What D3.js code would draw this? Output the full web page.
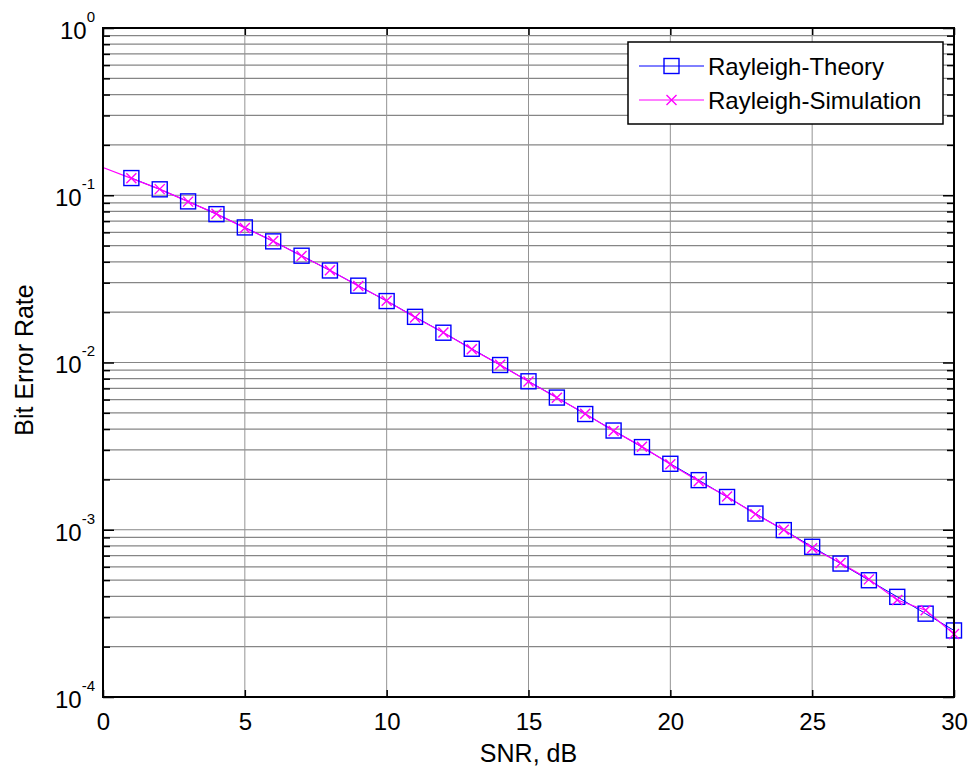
<!DOCTYPE html>
<html>
<head>
<meta charset="utf-8">
<script src="https://cdn.jsdelivr.net/npm/d3@7"></script>
<style>
  body { margin: 0; background: #fff; }
  svg { display: block; font-family: "Liberation Sans", Arial, sans-serif; }
</style>
</head>
<body>
<svg id="chart" width="971" height="769"></svg>
<script>
// SNR points (dB)
const snrMarks = [1,2,3,4,5,6,7,8,9,10,11,12,13,14,15,16,17,18,19,20,21,22,23,24,25,26,27,28,29,30];
const simLineSnr = [0].concat(snrMarks);

// Rayleigh theory BER
const berTheory = [0.1267,0.1085,0.0919,0.0771,0.0642,0.0530,0.0435,0.0355,0.0288,0.0233,
  0.01875,0.01507,0.01208,0.00966,0.00772,0.00617,0.00492,0.00392,0.00312,0.00248,
  0.00198,0.00157,0.00125,0.000995,0.000791,0.000628,0.000499,0.000397,0.000315,0.000250];

// Rayleigh simulation BER (0 dB point first, only drawn as line)
const berSim = [0.1464,0.1262,0.1088,0.0916,0.0774,0.0638,0.0532,0.0433,0.0356,0.0287,0.0234,
  0.0186,0.0151,0.0120,0.00968,0.00770,0.00615,0.00494,0.00390,0.00314,0.00246,
  0.00195,0.00158,0.00124,0.00100,0.000775,0.000632,0.000505,0.000380,0.000330,0.000238];

const xTicks = [0,5,10,15,20,25,30];
const yDecades = [1e-4,1e-3,1e-2,1e-1,1];
const legendLabels = ["Rayleigh-Theory", "Rayleigh-Simulation"];

const W = 971, H = 769;
const margin = {top: 28, right: 17, bottom: 72, left: 103};

const svg = d3.select("#chart");

const x = d3.scaleLinear().domain([0, 30]).range([margin.left, W - margin.right]);
const y = d3.scaleLog().domain([1e-4, 1]).range([H - margin.bottom, margin.top]);

// minor ticks 2..9 in each decade
let yMinor = [];
yDecades.slice(0, -1).forEach(d => { for (let k = 2; k <= 9; k++) yMinor.push(d * k); });

// grid
const grid = svg.append("g");
grid.selectAll(".hg")
  .data(yDecades.concat(yMinor))
  .join("line")
  .attr("x1", margin.left).attr("x2", W - margin.right)
  .attr("y1", d => y(d)).attr("y2", d => y(d))
  .attr("stroke", "#868686").attr("stroke-width", 1.2);
grid.selectAll(".vg")
  .data(xTicks.slice(1, -1))
  .join("line")
  .attr("y1", margin.top).attr("y2", H - margin.bottom)
  .attr("x1", d => x(d)).attr("x2", d => x(d))
  .attr("stroke", "#949494").attr("stroke-width", 1);

// axes
const tickFont = 24;
const xAxisB = svg.append("g")
  .attr("transform", `translate(0,${H - margin.bottom})`)
  .call(d3.axisBottom(x).tickValues(xTicks).tickSize(-7).tickPadding(15.5).tickFormat(d3.format("d")));
xAxisB.select(".domain").remove();
xAxisB.selectAll("text").attr("font-size", tickFont).attr("fill", "#000").attr("font-family", null);

const xAxisT = svg.append("g")
  .attr("transform", `translate(0,${margin.top})`)
  .call(d3.axisTop(x).tickValues(xTicks).tickSize(-7).tickFormat(""));
xAxisT.select(".domain").remove();

const yAxisL = svg.append("g")
  .attr("transform", `translate(${margin.left},0)`)
  .call(d3.axisLeft(y).tickValues(yDecades).tickSize(-11).tickPadding(8).tickFormat(""));
yAxisL.select(".domain").remove();
yAxisL.selectAll(".tick text")
  .attr("font-size", tickFont).attr("fill", "#000").attr("font-family", null)
  .attr("dy", "0.43em")
  .each(function(d) {
    const t = d3.select(this);
    t.append("tspan").text("10");
    t.append("tspan").attr("dy", -17).attr("font-size", 15).text(Math.round(Math.log10(d)));
  });

const yMinL = svg.append("g")
  .attr("transform", `translate(${margin.left},0)`)
  .call(d3.axisLeft(y).tickValues(yMinor).tickSize(-7).tickFormat(""));
yMinL.select(".domain").remove();

const yAxisR = svg.append("g")
  .attr("transform", `translate(${W - margin.right},0)`)
  .call(d3.axisRight(y).tickValues(yDecades).tickSize(-11).tickFormat(""));
yAxisR.select(".domain").remove();
const yMinR = svg.append("g")
  .attr("transform", `translate(${W - margin.right},0)`)
  .call(d3.axisRight(y).tickValues(yMinor).tickSize(-7).tickFormat(""));
yMinR.select(".domain").remove();

svg.selectAll(".tick line").attr("stroke", "#000").attr("stroke-width", 1.5);

// lines
const theoryPts = snrMarks.map((s, i) => [s, berTheory[i]]);
const simPts = simLineSnr.map((s, i) => [s, berSim[i]]);
const line = d3.line().x(d => x(d[0])).y(d => y(d[1]));

svg.append("path").datum(theoryPts)
  .attr("d", line).attr("fill", "none").attr("stroke", "#0000ff").attr("stroke-width", 1);
svg.append("path").datum(simPts)
  .attr("d", line).attr("fill", "none").attr("stroke", "#ff00ff").attr("stroke-width", 1.2);

// markers
const sq = 15;
svg.append("g").selectAll("rect")
  .data(theoryPts)
  .join("rect")
  .attr("x", d => x(d[0]) - sq / 2).attr("y", d => y(d[1]) - sq / 2)
  .attr("width", sq).attr("height", sq)
  .attr("fill", "none").attr("stroke", "#0000ff").attr("stroke-width", 1.4);

const xm = 5;
function cross(g, cx, cy) {
  g.append("path")
    .attr("d", `M${cx - xm},${cy - xm}L${cx + xm},${cy + xm}M${cx - xm},${cy + xm}L${cx + xm},${cy - xm}`)
    .attr("stroke", "#ff00ff").attr("stroke-width", 1.4).attr("fill", "none");
}
const simMarks = svg.append("g");
simPts.slice(1).forEach(d => cross(simMarks, x(d[0]), y(d[1])));

// axes box
svg.append("rect")
  .attr("x", margin.left).attr("y", margin.top)
  .attr("width", W - margin.left - margin.right).attr("height", H - margin.top - margin.bottom)
  .attr("fill", "none").attr("stroke", "#000").attr("stroke-width", 2);

// axis labels
svg.append("text")
  .attr("x", (margin.left + W - margin.right) / 2).attr("y", 762)
  .attr("text-anchor", "middle").attr("font-size", 25)
  .text("SNR, dB");
svg.append("text")
  .attr("transform", `translate(33,360) rotate(-90)`)
  .attr("text-anchor", "middle").attr("font-size", 25)
  .text("Bit Error Rate");

// legend
const lg = {x0: 628, x1: 943, y0: 42, y1: 124};
const leg = svg.append("g");
leg.append("rect")
  .attr("x", lg.x0).attr("y", lg.y0).attr("width", lg.x1 - lg.x0).attr("height", lg.y1 - lg.y0)
  .attr("fill", "#fff").attr("stroke", "#000").attr("stroke-width", 1.5);
const rowY = [66, 100];
const colors = ["#0000ff", "#ff00ff"];
legendLabels.forEach((lab, i) => {
  leg.append("line")
    .attr("x1", 639).attr("x2", 704).attr("y1", rowY[i]).attr("y2", rowY[i])
    .attr("stroke", colors[i]).attr("stroke-width", 1);
  if (i === 0) {
    leg.append("rect")
      .attr("x", 671.5 - sq / 2).attr("y", rowY[i] - sq / 2).attr("width", sq).attr("height", sq)
      .attr("fill", "none").attr("stroke", "#0000ff").attr("stroke-width", 1.4);
  } else {
    cross(leg, 671.5, rowY[i]);
  }
  leg.append("text")
    .attr("x", 708).attr("y", rowY[i] + 8.6)
    .attr("font-size", 24)
    .text(lab);
});
</script>
</body>
</html>
